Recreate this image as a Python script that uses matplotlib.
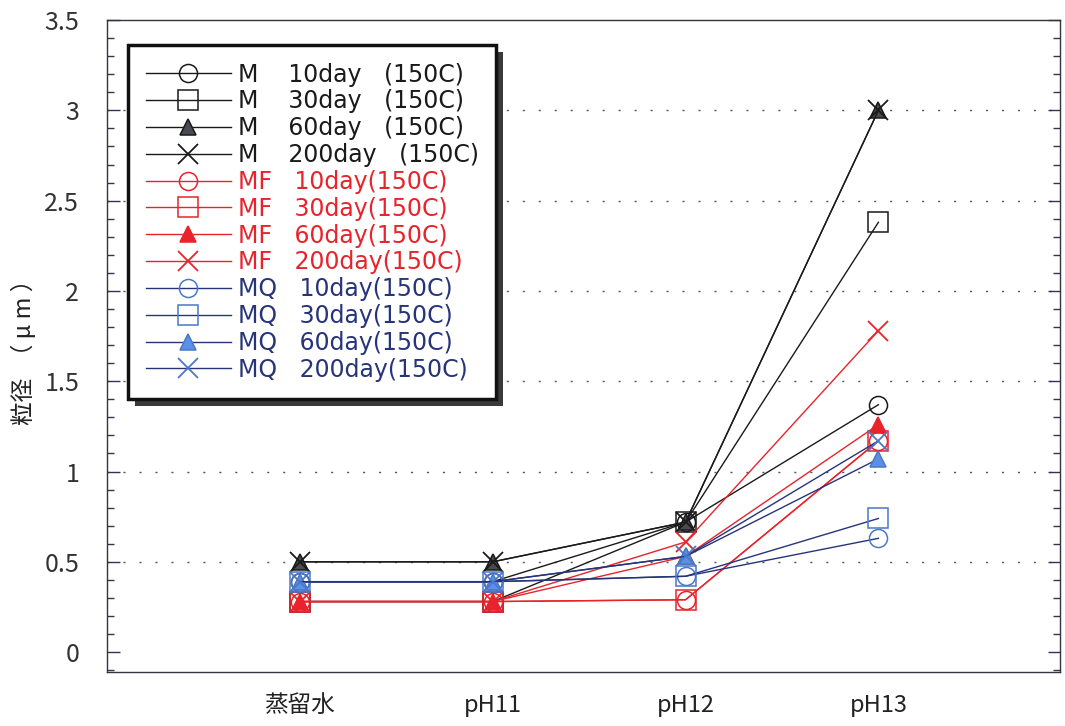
import matplotlib
matplotlib.use("Agg")
import matplotlib.pyplot as plt
from matplotlib.patches import Rectangle
from matplotlib.ticker import MultipleLocator

plt.rcParams['font.family'] = ['Noto Sans CJK JP', 'DejaVu Sans']

categories = ['蒸留水', 'pH11', 'pH12', 'pH13']

series_labels = [
    'M    10day   (150C)', 'M    30day   (150C)', 'M    60day   (150C)', 'M    200day   (150C)',
    'MF   10day(150C)', 'MF   30day(150C)', 'MF   60day(150C)', 'MF   200day(150C)',
    'MQ   10day(150C)', 'MQ   30day(150C)', 'MQ   60day(150C)', 'MQ   200day(150C)',
]
M10 = [0.39, 0.39, 0.72, 1.37]
M30 = [0.28, 0.28, 0.72, 2.38]
M60 = [0.50, 0.50, 0.72, 3.00]
M200 = [0.50, 0.50, 0.72, 3.00]
MF10 = [0.28, 0.28, 0.29, 1.17]
MF30 = [0.28, 0.28, 0.29, 1.17]
MF60 = [0.28, 0.28, 0.53, 1.26]
MF200 = [0.28, 0.28, 0.61, 1.78]
MQ10 = [0.39, 0.39, 0.42, 0.63]
MQ30 = [0.39, 0.39, 0.42, 0.74]
MQ60 = [0.39, 0.39, 0.53, 1.07]
MQ200 = [0.39, 0.39, 0.53, 1.17]
values = [M10, M30, M60, M200, MF10, MF30, MF60, MF200, MQ10, MQ30, MQ60, MQ200]

BLACK = '#1a1a1a'
RED = '#e8232b'
NAVY = '#27347a'
BLUE = '#4a78c8'
LBLUE = '#5a90e6'
GRAYF = '#4a4a55'

styles = [
    dict(color=BLACK, marker='o', mec=BLACK, mfc='none', ms=13),
    dict(color=BLACK, marker='s', mec=BLACK, mfc='none', ms=15),
    dict(color=BLACK, marker='^', mec=BLACK, mfc=GRAYF, ms=11),
    dict(color=BLACK, marker='x', mec=BLACK, mfc='none', ms=15, mew=1.3),
    dict(color=RED, marker='o', mec=RED, mfc='none', ms=13),
    dict(color=RED, marker='s', mec=RED, mfc='none', ms=15),
    dict(color=RED, marker='^', mec=RED, mfc=RED, ms=11),
    dict(color=RED, marker='x', mec=RED, mfc='none', ms=15, mew=1.3),
    dict(color=NAVY, marker='o', mec=BLUE, mfc='none', ms=13),
    dict(color=NAVY, marker='s', mec=BLUE, mfc='none', ms=15),
    dict(color=NAVY, marker='^', mec=BLUE, mfc=LBLUE, ms=11),
    dict(color=NAVY, marker='x', mec=BLUE, mfc='none', ms=15, mew=1.3),
]
text_colors = [BLACK] * 4 + [RED] * 4 + [NAVY] * 4

fig = plt.figure(figsize=(10.65, 7.26), dpi=100)
ax = fig.add_axes([0.1005, 0.0744, 0.8945, 0.898])

x = list(range(len(categories)))
handles = []
for lab, vals, st in zip(series_labels, values, styles):
    st = dict(st)
    mew = st.pop('mew', 1.1)
    h, = ax.plot(x, vals, lw=1.0, mew=mew, label=lab, **st)
    handles.append(h)

ax.set_xlim(-1.0, 3.94)
ax.set_ylim(-0.11, 3.5)
ax.set_xticks(x)
ax.set_xticklabels(categories, fontsize=17, color='#222222')
ax.tick_params(axis='x', length=0, pad=16)

ax.set_yticks([0, 0.5, 1, 1.5, 2, 2.5, 3, 3.5])
ax.set_yticklabels(['0', '0.5', '1', '1.5', '2', '2.5', '3', '3.5'], fontsize=18, color='#333333')
ax.yaxis.set_minor_locator(MultipleLocator(0.1))
ax.tick_params(axis='y', which='major', direction='in', length=9, width=1.0, pad=20,
               right=True, color='#333355')
ax.tick_params(axis='y', which='minor', direction='in', length=5, width=1.0,
               right=True, color='#333355')

for gy in [0.5, 1, 1.5, 2, 2.5, 3]:
    ax.axhline(gy, color='#555555', lw=1.0, ls=(0, (1.5, 10)), zorder=0)

for s in ax.spines.values():
    s.set_color('#333344')
    s.set_linewidth(1.0)

ax.set_ylabel('粒径  （ μ m ）', fontsize=17, color='#222222', labelpad=6)

leg = ax.legend(handles=handles, loc='upper left', bbox_to_anchor=(0.022, 0.962),
                borderaxespad=0, handlelength=3.6, handletextpad=0.3,
                labelspacing=0.12, borderpad=0.75, fancybox=False, frameon=True,
                framealpha=1.0,
                prop={'family': ['DejaVu Sans'], 'size': 17})
leg.get_frame().set_edgecolor('#111111')
leg.get_frame().set_linewidth(2.5)
leg.get_frame().set_facecolor('white')
leg.set_zorder(5)
for t, c in zip(leg.get_texts(), text_colors):
    t.set_color(c)

fig.canvas.draw()
bb = leg.get_window_extent().transformed(fig.transFigure.inverted())
dx = 7 / 1065
dy = 7 / 726
shadow = Rectangle((bb.x0 + dx, bb.y0 - dy), bb.width, bb.height,
                   transform=fig.transFigure, facecolor='#3a3a3a', edgecolor='none', zorder=4)
shadow.set_clip_on(False)
ax.add_artist(shadow)

fig.savefig('out.png', dpi=100)
